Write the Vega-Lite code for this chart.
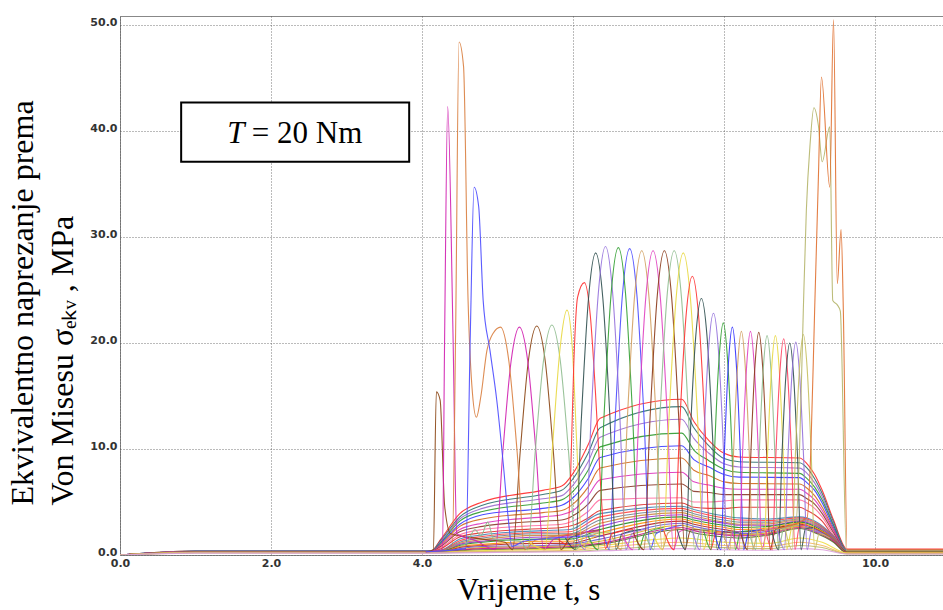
{
"$schema": "https://vega.github.io/schema/vega-lite/v6.json",
"width": 823, "height": 539,
"autosize": "none",
"padding": {"left": 120, "top": 16, "right": 0, "bottom": 55},
"background": "white",
"config": {"view": {"stroke": "#888", "strokeWidth": 1}},
"layer": [
{
"data": {"values": [
{"s":"F01","x":0,"y":0},{"s":"F01","x":1,"y":0.38},{"s":"F01","x":4.12,"y":0.38},{"s":"F01","x":4.25,"y":1.5},{"s":"F01","x":4.5,"y":3.9},{"s":"F01","x":4.8,"y":5.0},{"s":"F01","x":5.6,"y":6.1},{"s":"F01","x":5.85,"y":6.5},{"s":"F01","x":6.0,"y":7.7},{"s":"F01","x":6.2,"y":10.4},{"s":"F01","x":6.36,"y":12.9},{"s":"F01","x":7.44,"y":14.7},{"s":"F01","x":7.6,"y":12.6},{"s":"F01","x":7.8,"y":10.8},{"s":"F01","x":8.0,"y":9.6},{"s":"F01","x":8.2,"y":9.25},{"s":"F01","x":9.0,"y":9.15},{"s":"F01","x":9.1,"y":8.6},{"s":"F01","x":9.2,"y":7.6},{"s":"F01","x":9.3,"y":6.1},{"s":"F01","x":9.45,"y":3.3},{"s":"F01","x":9.63,"y":0.55},{"s":"F01","x":10.9,"y":0.55},
{"s":"F02","x":0,"y":0},{"s":"F02","x":1,"y":0.37},{"s":"F02","x":4.12,"y":0.37},{"s":"F02","x":4.25,"y":1.4},{"s":"F02","x":4.5,"y":3.6},{"s":"F02","x":4.8,"y":4.7},{"s":"F02","x":5.6,"y":5.7},{"s":"F02","x":5.85,"y":6.1},{"s":"F02","x":6.0,"y":7.2},{"s":"F02","x":6.2,"y":9.6},{"s":"F02","x":6.36,"y":12.0},{"s":"F02","x":7.44,"y":14.0},{"s":"F02","x":7.6,"y":12.0},{"s":"F02","x":7.8,"y":10.3},{"s":"F02","x":8.0,"y":9.1},{"s":"F02","x":8.2,"y":8.8},{"s":"F02","x":9.0,"y":8.7},{"s":"F02","x":9.1,"y":8.2},{"s":"F02","x":9.2,"y":7.2},{"s":"F02","x":9.3,"y":5.8},{"s":"F02","x":9.45,"y":3.1},{"s":"F02","x":9.63,"y":0.45},{"s":"F02","x":10.9,"y":0.45},
{"s":"F03","x":0,"y":0},{"s":"F03","x":1,"y":0.36},{"s":"F03","x":4.12,"y":0.36},{"s":"F03","x":4.25,"y":1.3},{"s":"F03","x":4.5,"y":3.4},{"s":"F03","x":4.8,"y":4.4},{"s":"F03","x":5.6,"y":5.3},{"s":"F03","x":5.85,"y":5.6},{"s":"F03","x":6.0,"y":6.6},{"s":"F03","x":6.2,"y":8.8},{"s":"F03","x":6.36,"y":11.1},{"s":"F03","x":7.44,"y":12.8},{"s":"F03","x":7.6,"y":11.0},{"s":"F03","x":7.8,"y":9.6},{"s":"F03","x":8.0,"y":8.6},{"s":"F03","x":8.2,"y":8.3},{"s":"F03","x":9.0,"y":8.2},{"s":"F03","x":9.1,"y":7.7},{"s":"F03","x":9.2,"y":6.8},{"s":"F03","x":9.3,"y":5.5},{"s":"F03","x":9.45,"y":2.9},{"s":"F03","x":9.63,"y":0.4},{"s":"F03","x":10.9,"y":0.4},
{"s":"F04","x":0,"y":0},{"s":"F04","x":1,"y":0.35},{"s":"F04","x":4.12,"y":0.35},{"s":"F04","x":4.25,"y":1.2},{"s":"F04","x":4.5,"y":3.2},{"s":"F04","x":4.8,"y":4.1},{"s":"F04","x":5.6,"y":4.9},{"s":"F04","x":5.85,"y":5.2},{"s":"F04","x":6.0,"y":6.0},{"s":"F04","x":6.2,"y":8.0},{"s":"F04","x":6.36,"y":10.2},{"s":"F04","x":7.44,"y":11.5},{"s":"F04","x":7.6,"y":9.9},{"s":"F04","x":7.8,"y":8.9},{"s":"F04","x":8.0,"y":8.1},{"s":"F04","x":8.2,"y":7.8},{"s":"F04","x":9.0,"y":7.7},{"s":"F04","x":9.1,"y":7.2},{"s":"F04","x":9.2,"y":6.4},{"s":"F04","x":9.3,"y":5.2},{"s":"F04","x":9.45,"y":2.8},{"s":"F04","x":9.63,"y":0.35},{"s":"F04","x":10.9,"y":0.35},
{"s":"F05","x":0,"y":0},{"s":"F05","x":1,"y":0.34},{"s":"F05","x":4.12,"y":0.34},{"s":"F05","x":4.25,"y":1.1},{"s":"F05","x":4.5,"y":2.9},{"s":"F05","x":4.8,"y":3.8},{"s":"F05","x":5.6,"y":4.4},{"s":"F05","x":5.85,"y":4.7},{"s":"F05","x":6.0,"y":5.4},{"s":"F05","x":6.2,"y":7.2},{"s":"F05","x":6.36,"y":9.2},{"s":"F05","x":7.44,"y":10.3},{"s":"F05","x":7.6,"y":9.0},{"s":"F05","x":7.8,"y":8.3},{"s":"F05","x":8.0,"y":7.6},{"s":"F05","x":8.2,"y":7.35},{"s":"F05","x":9.0,"y":7.3},{"s":"F05","x":9.1,"y":6.8},{"s":"F05","x":9.2,"y":6.1},{"s":"F05","x":9.3,"y":4.9},{"s":"F05","x":9.45,"y":2.6},{"s":"F05","x":9.63,"y":0.3},{"s":"F05","x":10.9,"y":0.3},
{"s":"F06","x":0,"y":0},{"s":"F06","x":1,"y":0.33},{"s":"F06","x":4.12,"y":0.33},{"s":"F06","x":4.25,"y":1.0},{"s":"F06","x":4.5,"y":2.7},{"s":"F06","x":4.8,"y":3.4},{"s":"F06","x":5.6,"y":4.0},{"s":"F06","x":5.85,"y":4.2},{"s":"F06","x":6.0,"y":4.8},{"s":"F06","x":6.2,"y":6.4},{"s":"F06","x":6.36,"y":8.2},{"s":"F06","x":7.44,"y":9.15},{"s":"F06","x":7.6,"y":8.0},{"s":"F06","x":7.8,"y":7.5},{"s":"F06","x":8.0,"y":6.9},{"s":"F06","x":8.2,"y":6.75},{"s":"F06","x":9.0,"y":6.7},{"s":"F06","x":9.1,"y":6.3},{"s":"F06","x":9.2,"y":5.6},{"s":"F06","x":9.3,"y":4.5},{"s":"F06","x":9.45,"y":2.4},{"s":"F06","x":9.63,"y":0.3},{"s":"F06","x":10.9,"y":0.3},
{"s":"F07","x":0,"y":0},{"s":"F07","x":1,"y":0.32},{"s":"F07","x":4.12,"y":0.32},{"s":"F07","x":4.25,"y":0.9},{"s":"F07","x":4.5,"y":2.4},{"s":"F07","x":4.8,"y":3.0},{"s":"F07","x":5.6,"y":3.6},{"s":"F07","x":5.85,"y":3.8},{"s":"F07","x":6.0,"y":4.2},{"s":"F07","x":6.2,"y":5.6},{"s":"F07","x":6.36,"y":7.1},{"s":"F07","x":7.44,"y":7.8},{"s":"F07","x":7.6,"y":6.9},{"s":"F07","x":7.8,"y":6.6},{"s":"F07","x":8.0,"y":6.3},{"s":"F07","x":8.2,"y":6.2},{"s":"F07","x":9.0,"y":6.2},{"s":"F07","x":9.1,"y":5.8},{"s":"F07","x":9.2,"y":5.2},{"s":"F07","x":9.3,"y":4.2},{"s":"F07","x":9.45,"y":2.3},{"s":"F07","x":9.63,"y":0.3},{"s":"F07","x":10.9,"y":0.3},
{"s":"F08","x":0,"y":0},{"s":"F08","x":1,"y":0.31},{"s":"F08","x":4.12,"y":0.31},{"s":"F08","x":4.25,"y":0.8},{"s":"F08","x":4.5,"y":2.2},{"s":"F08","x":4.8,"y":2.7},{"s":"F08","x":5.6,"y":3.2},{"s":"F08","x":5.85,"y":3.3},{"s":"F08","x":6.0,"y":3.7},{"s":"F08","x":6.2,"y":4.8},{"s":"F08","x":6.36,"y":6.1},{"s":"F08","x":7.44,"y":6.7},{"s":"F08","x":7.6,"y":6.0},{"s":"F08","x":7.8,"y":5.9},{"s":"F08","x":8.0,"y":5.7},{"s":"F08","x":8.2,"y":5.7},{"s":"F08","x":9.0,"y":5.7},{"s":"F08","x":9.1,"y":5.3},{"s":"F08","x":9.2,"y":4.8},{"s":"F08","x":9.3,"y":3.9},{"s":"F08","x":9.45,"y":2.1},{"s":"F08","x":9.63,"y":0.25},{"s":"F08","x":10.9,"y":0.25},
{"s":"F09","x":0,"y":0},{"s":"F09","x":1,"y":0.3},{"s":"F09","x":4.12,"y":0.3},{"s":"F09","x":4.25,"y":0.7},{"s":"F09","x":4.5,"y":1.9},{"s":"F09","x":4.8,"y":2.4},{"s":"F09","x":5.6,"y":2.8},{"s":"F09","x":5.85,"y":2.9},{"s":"F09","x":6.0,"y":3.2},{"s":"F09","x":6.2,"y":4.1},{"s":"F09","x":6.36,"y":5.2},{"s":"F09","x":7.44,"y":5.4},{"s":"F09","x":7.6,"y":5.0},{"s":"F09","x":7.8,"y":5.0},{"s":"F09","x":8.0,"y":5.1},{"s":"F09","x":8.2,"y":5.2},{"s":"F09","x":9.0,"y":5.2},{"s":"F09","x":9.1,"y":4.9},{"s":"F09","x":9.2,"y":4.4},{"s":"F09","x":9.3,"y":3.6},{"s":"F09","x":9.45,"y":1.9},{"s":"F09","x":9.63,"y":0.25},{"s":"F09","x":10.9,"y":0.25},
{"s":"F10","x":0,"y":0},{"s":"F10","x":1,"y":0.3},{"s":"F10","x":4.12,"y":0.3},{"s":"F10","x":4.25,"y":0.6},{"s":"F10","x":4.5,"y":1.7},{"s":"F10","x":4.8,"y":2.1},{"s":"F10","x":5.6,"y":2.5},{"s":"F10","x":5.85,"y":2.6},{"s":"F10","x":6.0,"y":2.8},{"s":"F10","x":6.2,"y":3.5},{"s":"F10","x":6.36,"y":4.2},{"s":"F10","x":7.44,"y":4.9},{"s":"F10","x":7.6,"y":4.5},{"s":"F10","x":7.8,"y":4.4},{"s":"F10","x":8.0,"y":4.4},{"s":"F10","x":8.2,"y":4.5},{"s":"F10","x":9.0,"y":4.5},{"s":"F10","x":9.1,"y":4.2},{"s":"F10","x":9.2,"y":3.8},{"s":"F10","x":9.3,"y":3.2},{"s":"F10","x":9.45,"y":1.7},{"s":"F10","x":9.63,"y":0.2},{"s":"F10","x":10.9,"y":0.2},
{"s":"C01","x":0,"y":0},{"s":"C01","x":1,"y":0.3},{"s":"C01","x":4.12,"y":0.3},{"s":"C01","x":4.3,"y":0.6},{"s":"C01","x":4.5,"y":1.5},{"s":"C01","x":4.8,"y":1.9},{"s":"C01","x":5.6,"y":2.3},{"s":"C01","x":5.96,"y":2.4},{"s":"C01","x":6.36,"y":3.9},{"s":"C01","x":7.44,"y":4.6},{"s":"C01","x":7.6,"y":4.3},{"s":"C01","x":8.0,"y":3.7},{"s":"C01","x":8.2,"y":3.5},{"s":"C01","x":8.6,"y":3.4},{"s":"C01","x":9.0,"y":3.6},{"s":"C01","x":9.2,"y":3.2},{"s":"C01","x":9.45,"y":1.8},{"s":"C01","x":9.63,"y":0.4},{"s":"C01","x":10.9,"y":0.4},
{"s":"C02","x":0,"y":0},{"s":"C02","x":1,"y":0.3},{"s":"C02","x":4.12,"y":0.3},{"s":"C02","x":4.3,"y":0.55},{"s":"C02","x":4.5,"y":1.35},{"s":"C02","x":4.8,"y":1.75},{"s":"C02","x":5.6,"y":2.15},{"s":"C02","x":5.96,"y":2.2},{"s":"C02","x":6.36,"y":3.6},{"s":"C02","x":7.44,"y":4.4},{"s":"C02","x":7.6,"y":4.1},{"s":"C02","x":8.0,"y":3.5},{"s":"C02","x":8.2,"y":3.3},{"s":"C02","x":8.6,"y":3.25},{"s":"C02","x":9.0,"y":3.5},{"s":"C02","x":9.2,"y":3.1},{"s":"C02","x":9.45,"y":1.75},{"s":"C02","x":9.63,"y":0.35},{"s":"C02","x":10.9,"y":0.35},
{"s":"C03","x":0,"y":0},{"s":"C03","x":1,"y":0.3},{"s":"C03","x":4.12,"y":0.3},{"s":"C03","x":4.3,"y":0.5},{"s":"C03","x":4.5,"y":1.2},{"s":"C03","x":4.8,"y":1.6},{"s":"C03","x":5.6,"y":2.0},{"s":"C03","x":5.96,"y":2.0},{"s":"C03","x":6.36,"y":3.3},{"s":"C03","x":7.44,"y":4.2},{"s":"C03","x":7.6,"y":3.9},{"s":"C03","x":8.0,"y":3.3},{"s":"C03","x":8.2,"y":3.1},{"s":"C03","x":8.6,"y":3.1},{"s":"C03","x":9.0,"y":3.4},{"s":"C03","x":9.2,"y":3.0},{"s":"C03","x":9.45,"y":1.7},{"s":"C03","x":9.63,"y":0.35},{"s":"C03","x":10.9,"y":0.35},
{"s":"C04","x":0,"y":0},{"s":"C04","x":1,"y":0.29},{"s":"C04","x":4.12,"y":0.29},{"s":"C04","x":4.3,"y":0.45},{"s":"C04","x":4.5,"y":1.1},{"s":"C04","x":4.8,"y":1.45},{"s":"C04","x":5.6,"y":1.85},{"s":"C04","x":5.96,"y":1.85},{"s":"C04","x":6.36,"y":3.0},{"s":"C04","x":7.44,"y":4.0},{"s":"C04","x":7.6,"y":3.7},{"s":"C04","x":8.0,"y":3.1},{"s":"C04","x":8.2,"y":2.9},{"s":"C04","x":8.6,"y":2.95},{"s":"C04","x":9.0,"y":3.3},{"s":"C04","x":9.2,"y":2.9},{"s":"C04","x":9.45,"y":1.6},{"s":"C04","x":9.63,"y":0.3},{"s":"C04","x":10.9,"y":0.3},
{"s":"C05","x":0,"y":0},{"s":"C05","x":1,"y":0.29},{"s":"C05","x":4.12,"y":0.29},{"s":"C05","x":4.3,"y":0.4},{"s":"C05","x":4.5,"y":1.0},{"s":"C05","x":4.8,"y":1.3},{"s":"C05","x":5.6,"y":1.7},{"s":"C05","x":5.96,"y":1.7},{"s":"C05","x":6.36,"y":2.7},{"s":"C05","x":7.44,"y":3.8},{"s":"C05","x":7.6,"y":3.5},{"s":"C05","x":8.0,"y":3.0},{"s":"C05","x":8.2,"y":2.8},{"s":"C05","x":8.6,"y":2.8},{"s":"C05","x":9.0,"y":3.2},{"s":"C05","x":9.2,"y":2.8},{"s":"C05","x":9.45,"y":1.6},{"s":"C05","x":9.63,"y":0.3},{"s":"C05","x":10.9,"y":0.3},
{"s":"C06","x":0,"y":0},{"s":"C06","x":1,"y":0.28},{"s":"C06","x":4.12,"y":0.28},{"s":"C06","x":4.3,"y":0.4},{"s":"C06","x":4.5,"y":0.9},{"s":"C06","x":4.8,"y":1.2},{"s":"C06","x":5.6,"y":1.5},{"s":"C06","x":5.96,"y":1.5},{"s":"C06","x":6.36,"y":2.4},{"s":"C06","x":7.44,"y":3.6},{"s":"C06","x":7.6,"y":3.3},{"s":"C06","x":8.0,"y":2.8},{"s":"C06","x":8.2,"y":2.6},{"s":"C06","x":8.6,"y":2.7},{"s":"C06","x":9.0,"y":3.1},{"s":"C06","x":9.2,"y":2.7},{"s":"C06","x":9.45,"y":1.5},{"s":"C06","x":9.63,"y":0.3},{"s":"C06","x":10.9,"y":0.3},
{"s":"C07","x":0,"y":0},{"s":"C07","x":1,"y":0.28},{"s":"C07","x":4.12,"y":0.28},{"s":"C07","x":4.3,"y":0.35},{"s":"C07","x":4.5,"y":0.8},{"s":"C07","x":4.8,"y":1.0},{"s":"C07","x":5.6,"y":1.3},{"s":"C07","x":5.96,"y":1.3},{"s":"C07","x":6.36,"y":2.1},{"s":"C07","x":7.44,"y":3.4},{"s":"C07","x":7.6,"y":3.1},{"s":"C07","x":8.0,"y":2.6},{"s":"C07","x":8.2,"y":2.4},{"s":"C07","x":8.6,"y":2.55},{"s":"C07","x":9.0,"y":3.0},{"s":"C07","x":9.2,"y":2.6},{"s":"C07","x":9.45,"y":1.5},{"s":"C07","x":9.63,"y":0.25},{"s":"C07","x":10.9,"y":0.25},
{"s":"C08","x":0,"y":0},{"s":"C08","x":1,"y":0.27},{"s":"C08","x":4.12,"y":0.27},{"s":"C08","x":4.3,"y":0.35},{"s":"C08","x":4.5,"y":0.7},{"s":"C08","x":4.8,"y":0.9},{"s":"C08","x":5.6,"y":1.1},{"s":"C08","x":5.96,"y":1.1},{"s":"C08","x":6.36,"y":1.8},{"s":"C08","x":7.44,"y":3.2},{"s":"C08","x":7.6,"y":2.9},{"s":"C08","x":8.0,"y":2.4},{"s":"C08","x":8.2,"y":2.2},{"s":"C08","x":8.6,"y":2.4},{"s":"C08","x":9.0,"y":2.9},{"s":"C08","x":9.2,"y":2.5},{"s":"C08","x":9.45,"y":1.4},{"s":"C08","x":9.63,"y":0.25},{"s":"C08","x":10.9,"y":0.25},
{"s":"C09","x":0,"y":0},{"s":"C09","x":1,"y":0.27},{"s":"C09","x":4.12,"y":0.27},{"s":"C09","x":4.3,"y":0.3},{"s":"C09","x":4.5,"y":0.6},{"s":"C09","x":4.8,"y":0.8},{"s":"C09","x":5.6,"y":0.9},{"s":"C09","x":5.96,"y":1.0},{"s":"C09","x":6.36,"y":1.5},{"s":"C09","x":7.44,"y":3.0},{"s":"C09","x":7.6,"y":2.7},{"s":"C09","x":8.0,"y":2.2},{"s":"C09","x":8.2,"y":2.0},{"s":"C09","x":8.6,"y":2.25},{"s":"C09","x":9.0,"y":2.8},{"s":"C09","x":9.2,"y":2.4},{"s":"C09","x":9.45,"y":1.4},{"s":"C09","x":9.63,"y":0.2},{"s":"C09","x":10.9,"y":0.2},
{"s":"C10","x":0,"y":0},{"s":"C10","x":1,"y":0.26},{"s":"C10","x":4.12,"y":0.26},{"s":"C10","x":4.3,"y":0.3},{"s":"C10","x":4.5,"y":0.5},{"s":"C10","x":4.8,"y":0.7},{"s":"C10","x":5.6,"y":0.8},{"s":"C10","x":5.96,"y":0.9},{"s":"C10","x":6.36,"y":1.3},{"s":"C10","x":7.44,"y":2.8},{"s":"C10","x":7.6,"y":2.5},{"s":"C10","x":8.0,"y":2.0},{"s":"C10","x":8.2,"y":1.9},{"s":"C10","x":8.6,"y":2.1},{"s":"C10","x":9.0,"y":2.7},{"s":"C10","x":9.2,"y":2.3},{"s":"C10","x":9.45,"y":1.3},{"s":"C10","x":9.63,"y":0.2},{"s":"C10","x":10.9,"y":0.2},
{"s":"C11","x":0,"y":0},{"s":"C11","x":1,"y":0.26},{"s":"C11","x":4.12,"y":0.26},{"s":"C11","x":4.3,"y":0.3},{"s":"C11","x":4.5,"y":0.45},{"s":"C11","x":4.8,"y":0.6},{"s":"C11","x":5.6,"y":0.7},{"s":"C11","x":5.96,"y":0.8},{"s":"C11","x":6.36,"y":1.1},{"s":"C11","x":7.44,"y":2.6},{"s":"C11","x":7.6,"y":2.3},{"s":"C11","x":8.0,"y":1.9},{"s":"C11","x":8.2,"y":1.8},{"s":"C11","x":8.6,"y":2.0},{"s":"C11","x":9.0,"y":2.6},{"s":"C11","x":9.2,"y":2.2},{"s":"C11","x":9.45,"y":1.3},{"s":"C11","x":9.63,"y":0.2},{"s":"C11","x":10.9,"y":0.2},
{"s":"C12","x":0,"y":0},{"s":"C12","x":1,"y":0.25},{"s":"C12","x":4.12,"y":0.25},{"s":"C12","x":4.3,"y":0.3},{"s":"C12","x":4.5,"y":0.4},{"s":"C12","x":4.8,"y":0.5},{"s":"C12","x":5.6,"y":0.6},{"s":"C12","x":5.96,"y":0.7},{"s":"C12","x":6.36,"y":1.0},{"s":"C12","x":7.44,"y":2.4},{"s":"C12","x":7.6,"y":2.1},{"s":"C12","x":8.0,"y":1.7},{"s":"C12","x":8.2,"y":1.6},{"s":"C12","x":8.6,"y":1.9},{"s":"C12","x":9.0,"y":2.5},{"s":"C12","x":9.2,"y":2.1},{"s":"C12","x":9.45,"y":1.2},{"s":"C12","x":9.63,"y":0.15},{"s":"C12","x":10.9,"y":0.15},
{"s":"L01","x":0,"y":0},{"s":"L01","x":1,"y":0.25},{"s":"L01","x":4.12,"y":0.25},{"s":"L01","x":4.5,"y":0.35},{"s":"L01","x":5.0,"y":0.45},{"s":"L01","x":6.0,"y":0.6},{"s":"L01","x":6.4,"y":0.9},{"s":"L01","x":7.44,"y":1.6},{"s":"L01","x":8.0,"y":1.2},{"s":"L01","x":8.6,"y":1.1},{"s":"L01","x":9.0,"y":1.6},{"s":"L01","x":9.3,"y":1.2},{"s":"L01","x":9.63,"y":0.2},{"s":"L01","x":10.9,"y":0.2},
{"s":"L02","x":0,"y":0},{"s":"L02","x":1,"y":0.22},{"s":"L02","x":4.12,"y":0.22},{"s":"L02","x":4.5,"y":0.3},{"s":"L02","x":5.0,"y":0.35},{"s":"L02","x":6.0,"y":0.45},{"s":"L02","x":6.4,"y":0.7},{"s":"L02","x":7.44,"y":1.2},{"s":"L02","x":8.0,"y":0.9},{"s":"L02","x":8.6,"y":0.8},{"s":"L02","x":9.0,"y":1.2},{"s":"L02","x":9.3,"y":0.9},{"s":"L02","x":9.63,"y":0.15},{"s":"L02","x":10.9,"y":0.15},
{"s":"L03","x":0,"y":0},{"s":"L03","x":1,"y":0.2},{"s":"L03","x":4.12,"y":0.2},{"s":"L03","x":4.5,"y":0.25},{"s":"L03","x":5.0,"y":0.3},{"s":"L03","x":6.0,"y":0.35},{"s":"L03","x":6.4,"y":0.5},{"s":"L03","x":7.44,"y":0.9},{"s":"L03","x":8.0,"y":0.7},{"s":"L03","x":8.6,"y":0.6},{"s":"L03","x":9.0,"y":0.9},{"s":"L03","x":9.3,"y":0.7},{"s":"L03","x":9.63,"y":0.1},{"s":"L03","x":10.9,"y":0.1},
{"s":"L04","x":0,"y":0},{"s":"L04","x":1,"y":0.18},{"s":"L04","x":4.12,"y":0.18},{"s":"L04","x":4.5,"y":0.2},{"s":"L04","x":5.0,"y":0.25},{"s":"L04","x":6.0,"y":0.3},{"s":"L04","x":6.4,"y":0.4},{"s":"L04","x":7.44,"y":0.6},{"s":"L04","x":8.0,"y":0.5},{"s":"L04","x":8.6,"y":0.45},{"s":"L04","x":9.0,"y":0.6},{"s":"L04","x":9.3,"y":0.5},{"s":"L04","x":9.63,"y":0.1},{"s":"L04","x":10.9,"y":0.1},
{"s":"S1","x":4.05,"y":0.3},{"s":"S1","x":4.15,"y":0.5},{"s":"S1","x":4.19,"y":15.4},{"s":"S1","x":4.24,"y":14.6},{"s":"S1","x":4.3,"y":4.6},{"s":"S1","x":4.38,"y":2.0},{"s":"S1","x":4.8,"y":1.5},{"s":"S1","x":5.1,"y":1.2},{"s":"S1","x":5.2,"y":0.5},{"s":"S1","x":5.3,"y":9.7},{"s":"S1","x":5.41,"y":18.4},{"s":"S1","x":5.52,"y":21.6},{"s":"S1","x":5.63,"y":18.4},{"s":"S1","x":5.74,"y":9.7},{"s":"S1","x":5.84,"y":0.5},{"s":"S1","x":5.96,"y":1.6},{"s":"S1","x":6.36,"y":2.4},
{"s":"S2","x":4.05,"y":0.3},{"s":"S2","x":4.27,"y":0.5},{"s":"S2","x":4.3,"y":21},{"s":"S2","x":4.34,"y":42.3},{"s":"S2","x":4.41,"y":21},{"s":"S2","x":4.46,"y":2.0},{"s":"S2","x":4.7,"y":1.4},{"s":"S2","x":4.97,"y":0.5},{"s":"S2","x":5.07,"y":9.7},{"s":"S2","x":5.18,"y":18.3},{"s":"S2","x":5.29,"y":21.5},{"s":"S2","x":5.4,"y":18.3},{"s":"S2","x":5.51,"y":9.7},{"s":"S2","x":5.61,"y":0.5},{"s":"S2","x":5.75,"y":1.5},{"s":"S2","x":6.36,"y":2.3},
{"s":"S3","x":4.05,"y":0.3},{"s":"S3","x":4.4,"y":0.5},{"s":"S3","x":4.445,"y":21},{"s":"S3","x":4.49,"y":48.4},{"s":"S3","x":4.55,"y":46.1},{"s":"S3","x":4.61,"y":24},{"s":"S3","x":4.66,"y":16},{"s":"S3","x":4.72,"y":13.0},{"s":"S3","x":4.78,"y":15},{"s":"S3","x":4.86,"y":19.3},{"s":"S3","x":4.94,"y":20.9},{"s":"S3","x":5.04,"y":21.5},{"s":"S3","x":5.15,"y":18.3},{"s":"S3","x":5.26,"y":9.7},{"s":"S3","x":5.36,"y":0.5},{"s":"S3","x":5.5,"y":1.4},{"s":"S3","x":6.36,"y":2.2},
{"s":"S4","x":4.05,"y":0.3},{"s":"S4","x":4.58,"y":0.6},{"s":"S4","x":4.64,"y":21},{"s":"S4","x":4.69,"y":34.7},{"s":"S4","x":4.75,"y":32.9},{"s":"S4","x":4.81,"y":24},{"s":"S4","x":4.9,"y":19.3},{"s":"S4","x":4.99,"y":14.6},{"s":"S4","x":5.08,"y":8.3},{"s":"S4","x":5.14,"y":3.6},{"s":"S4","x":5.19,"y":0.8},{"s":"S4","x":5.35,"y":1.3},{"s":"S4","x":5.96,"y":1.7},{"s":"S4","x":6.4,"y":1.8},{"s":"S4","x":6.48,"y":0.5},{"s":"S4","x":6.56,"y":13},{"s":"S4","x":6.655,"y":24.6},{"s":"S4","x":6.75,"y":28.9},{"s":"S4","x":6.845,"y":24.6},{"s":"S4","x":6.94,"y":13},{"s":"S4","x":7.02,"y":0.5},{"s":"S4","x":7.1,"y":2.0},{"s":"S4","x":7.44,"y":2.8},
{"s":"A04","x":4.5,"y":0.8},{"s":"A04","x":4.6,"y":1.2},{"s":"A04","x":4.7,"y":2.4},{"s":"A04","x":4.78,"y":1.8},{"s":"A04","x":4.87,"y":3.1},{"s":"A04","x":4.95,"y":1.5},{"s":"A04","x":5.3,"y":1.3},{"s":"A04","x":5.4,"y":0.5},{"s":"A04","x":5.5,"y":9.8},{"s":"A04","x":5.61,"y":18.4},{"s":"A04","x":5.72,"y":21.7},{"s":"A04","x":5.83,"y":18.4},{"s":"A04","x":5.94,"y":9.8},{"s":"A04","x":6.04,"y":0.5},{"s":"A04","x":6.15,"y":1.8},{"s":"A04","x":6.5,"y":2.2},
{"s":"A05","x":5.4,"y":1.3},{"s":"A05","x":5.63,"y":0.5},{"s":"A05","x":5.73,"y":10.4},{"s":"A05","x":5.83,"y":19.6},{"s":"A05","x":5.92,"y":23.1},{"s":"A05","x":5.99,"y":19.6},{"s":"A05","x":6.05,"y":10.4},{"s":"A05","x":6.12,"y":0.8},{"s":"A05","x":6.25,"y":1.6},{"s":"A05","x":6.5,"y":2.2},
{"s":"A06","x":5.8,"y":1.5},{"s":"A06","x":5.92,"y":1.0},{"s":"A06","x":5.97,"y":8},{"s":"A06","x":6.01,"y":18},{"s":"A06","x":6.06,"y":24.3},{"s":"A06","x":6.15,"y":25.7},{"s":"A06","x":6.23,"y":22.5},{"s":"A06","x":6.3,"y":15},{"s":"A06","x":6.37,"y":6},{"s":"A06","x":6.43,"y":0.6},{"s":"A06","x":6.52,"y":2.0},{"s":"A06","x":6.8,"y":2.4},
{"s":"A07","x":5.9,"y":1.6},{"s":"A07","x":6.03,"y":0.5},{"s":"A07","x":6.11,"y":12.8},{"s":"A07","x":6.205,"y":24.2},{"s":"A07","x":6.3,"y":28.5},{"s":"A07","x":6.395,"y":24.2},{"s":"A07","x":6.49,"y":12.8},{"s":"A07","x":6.57,"y":0.5},{"s":"A07","x":6.65,"y":2.0},{"s":"A07","x":6.9,"y":2.4},
{"s":"A08","x":6.05,"y":1.7},{"s":"A08","x":6.16,"y":0.5},{"s":"A08","x":6.24,"y":13.1},{"s":"A08","x":6.335,"y":24.7},{"s":"A08","x":6.43,"y":29.1},{"s":"A08","x":6.525,"y":24.7},{"s":"A08","x":6.62,"y":13.1},{"s":"A08","x":6.7,"y":0.5},{"s":"A08","x":6.78,"y":2.0},{"s":"A08","x":7.0,"y":2.5},
{"s":"A09","x":6.2,"y":1.8},{"s":"A09","x":6.33,"y":0.5},{"s":"A09","x":6.41,"y":13},{"s":"A09","x":6.505,"y":24.7},{"s":"A09","x":6.6,"y":29},{"s":"A09","x":6.695,"y":24.7},{"s":"A09","x":6.79,"y":13},{"s":"A09","x":6.87,"y":0.5},{"s":"A09","x":6.95,"y":2.0},{"s":"A09","x":7.2,"y":2.6},
{"s":"A11","x":6.5,"y":2.0},{"s":"A11","x":6.64,"y":0.5},{"s":"A11","x":6.72,"y":12.9},{"s":"A11","x":6.815,"y":24.4},{"s":"A11","x":6.91,"y":28.7},{"s":"A11","x":7.005,"y":24.4},{"s":"A11","x":7.1,"y":12.9},{"s":"A11","x":7.18,"y":0.5},{"s":"A11","x":7.26,"y":2.1},{"s":"A11","x":7.44,"y":2.6},
{"s":"A12","x":6.65,"y":2.0},{"s":"A12","x":6.79,"y":0.5},{"s":"A12","x":6.87,"y":12.9},{"s":"A12","x":6.965,"y":24.4},{"s":"A12","x":7.06,"y":28.7},{"s":"A12","x":7.155,"y":24.4},{"s":"A12","x":7.25,"y":12.9},{"s":"A12","x":7.33,"y":0.5},{"s":"A12","x":7.41,"y":2.2},{"s":"A12","x":7.6,"y":2.6},
{"s":"A13","x":6.8,"y":2.1},{"s":"A13","x":6.94,"y":0.5},{"s":"A13","x":7.02,"y":12.9},{"s":"A13","x":7.115,"y":24.4},{"s":"A13","x":7.21,"y":28.7},{"s":"A13","x":7.305,"y":24.4},{"s":"A13","x":7.4,"y":12.9},{"s":"A13","x":7.48,"y":0.5},{"s":"A13","x":7.56,"y":2.4},{"s":"A13","x":7.8,"y":2.3},
{"s":"A14","x":6.95,"y":2.1},{"s":"A14","x":7.07,"y":0.5},{"s":"A14","x":7.15,"y":12.9},{"s":"A14","x":7.245,"y":24.4},{"s":"A14","x":7.34,"y":28.7},{"s":"A14","x":7.435,"y":24.4},{"s":"A14","x":7.53,"y":12.9},{"s":"A14","x":7.61,"y":0.5},{"s":"A14","x":7.69,"y":2.4},{"s":"A14","x":7.9,"y":2.2},
{"s":"A15","x":7.05,"y":2.2},{"s":"A15","x":7.19,"y":0.5},{"s":"A15","x":7.27,"y":12.8},{"s":"A15","x":7.365,"y":24.2},{"s":"A15","x":7.46,"y":28.5},{"s":"A15","x":7.555,"y":24.2},{"s":"A15","x":7.65,"y":12.8},{"s":"A15","x":7.73,"y":0.5},{"s":"A15","x":7.81,"y":2.3},{"s":"A15","x":8.0,"y":2.1},
{"s":"A16","x":7.2,"y":2.3},{"s":"A16","x":7.34,"y":0.5},{"s":"A16","x":7.41,"y":11.8},{"s":"A16","x":7.495,"y":22.4},{"s":"A16","x":7.58,"y":26.3},{"s":"A16","x":7.665,"y":22.4},{"s":"A16","x":7.75,"y":11.8},{"s":"A16","x":7.82,"y":0.5},{"s":"A16","x":7.9,"y":2.2},{"s":"A16","x":8.1,"y":2.1},
{"s":"A17","x":7.38,"y":2.4},{"s":"A17","x":7.49,"y":0.5},{"s":"A17","x":7.55,"y":10.9},{"s":"A17","x":7.625,"y":20.6},{"s":"A17","x":7.7,"y":24.2},{"s":"A17","x":7.775,"y":20.6},{"s":"A17","x":7.85,"y":10.9},{"s":"A17","x":7.91,"y":0.5},{"s":"A17","x":7.99,"y":2.2},{"s":"A17","x":8.2,"y":2.1},
{"s":"A18","x":7.58,"y":2.4},{"s":"A18","x":7.68,"y":0.5},{"s":"A18","x":7.73,"y":10.3},{"s":"A18","x":7.795,"y":19.4},{"s":"A18","x":7.86,"y":22.8},{"s":"A18","x":7.925,"y":19.4},{"s":"A18","x":7.99,"y":10.3},{"s":"A18","x":8.04,"y":0.5},{"s":"A18","x":8.12,"y":2.2},{"s":"A18","x":8.3,"y":2.2},
{"s":"A19","x":7.73,"y":2.3},{"s":"A19","x":7.83,"y":0.5},{"s":"A19","x":7.875,"y":9.9},{"s":"A19","x":7.935,"y":18.6},{"s":"A19","x":7.99,"y":21.9},{"s":"A19","x":8.045,"y":18.6},{"s":"A19","x":8.105,"y":9.9},{"s":"A19","x":8.15,"y":0.5},{"s":"A19","x":8.22,"y":2.2},{"s":"A19","x":8.4,"y":2.3},
{"s":"A20","x":7.87,"y":2.2},{"s":"A20","x":7.96,"y":0.5},{"s":"A20","x":8.005,"y":9.7},{"s":"A20","x":8.06,"y":18.3},{"s":"A20","x":8.11,"y":21.5},{"s":"A20","x":8.16,"y":18.3},{"s":"A20","x":8.215,"y":9.7},{"s":"A20","x":8.26,"y":0.5},{"s":"A20","x":8.33,"y":2.2},{"s":"A20","x":8.5,"y":2.4},
{"s":"A21","x":7.99,"y":2.1},{"s":"A21","x":8.08,"y":0.5},{"s":"A21","x":8.125,"y":9.5},{"s":"A21","x":8.18,"y":17.9},{"s":"A21","x":8.23,"y":21.1},{"s":"A21","x":8.28,"y":17.9},{"s":"A21","x":8.335,"y":9.5},{"s":"A21","x":8.38,"y":0.5},{"s":"A21","x":8.45,"y":2.2},{"s":"A21","x":8.6,"y":2.5},
{"s":"A22","x":8.11,"y":2.1},{"s":"A22","x":8.2,"y":0.5},{"s":"A22","x":8.245,"y":9.5},{"s":"A22","x":8.3,"y":17.9},{"s":"A22","x":8.35,"y":21.1},{"s":"A22","x":8.4,"y":17.9},{"s":"A22","x":8.455,"y":9.5},{"s":"A22","x":8.5,"y":0.5},{"s":"A22","x":8.57,"y":2.3},{"s":"A22","x":8.7,"y":2.6},
{"s":"A23","x":8.22,"y":2.1},{"s":"A23","x":8.31,"y":0.5},{"s":"A23","x":8.355,"y":9.5},{"s":"A23","x":8.41,"y":17.9},{"s":"A23","x":8.46,"y":21.0},{"s":"A23","x":8.51,"y":17.9},{"s":"A23","x":8.565,"y":9.5},{"s":"A23","x":8.61,"y":0.5},{"s":"A23","x":8.68,"y":2.4},{"s":"A23","x":8.8,"y":2.7},
{"s":"A24","x":8.33,"y":2.2},{"s":"A24","x":8.42,"y":0.5},{"s":"A24","x":8.465,"y":9.3},{"s":"A24","x":8.52,"y":17.6},{"s":"A24","x":8.57,"y":20.7},{"s":"A24","x":8.62,"y":17.6},{"s":"A24","x":8.675,"y":9.3},{"s":"A24","x":8.72,"y":0.5},{"s":"A24","x":8.79,"y":2.5},{"s":"A24","x":8.9,"y":2.8},
{"s":"A25","x":8.44,"y":2.2},{"s":"A25","x":8.53,"y":0.5},{"s":"A25","x":8.575,"y":9.3},{"s":"A25","x":8.63,"y":17.6},{"s":"A25","x":8.68,"y":20.7},{"s":"A25","x":8.73,"y":17.6},{"s":"A25","x":8.785,"y":9.3},{"s":"A25","x":8.83,"y":0.5},{"s":"A25","x":8.9,"y":2.6},{"s":"A25","x":9.0,"y":2.9},
{"s":"A26","x":8.55,"y":2.3},{"s":"A26","x":8.64,"y":0.5},{"s":"A26","x":8.685,"y":9.2},{"s":"A26","x":8.74,"y":17.3},{"s":"A26","x":8.79,"y":20.4},{"s":"A26","x":8.84,"y":17.3},{"s":"A26","x":8.895,"y":9.2},{"s":"A26","x":8.94,"y":0.5},{"s":"A26","x":9.0,"y":2.7},{"s":"A26","x":9.1,"y":2.8},
{"s":"A27","x":8.63,"y":2.3},{"s":"A27","x":8.72,"y":0.5},{"s":"A27","x":8.765,"y":9},{"s":"A27","x":8.82,"y":17},{"s":"A27","x":8.87,"y":20},{"s":"A27","x":8.92,"y":17},{"s":"A27","x":8.975,"y":9},{"s":"A27","x":9.02,"y":0.5},{"s":"A27","x":9.08,"y":2.5},{"s":"A27","x":9.2,"y":2.6},
{"s":"A28","x":8.71,"y":2.4},{"s":"A28","x":8.8,"y":0.5},{"s":"A28","x":8.845,"y":9},{"s":"A28","x":8.9,"y":17.1},{"s":"A28","x":8.95,"y":20.1},{"s":"A28","x":9.0,"y":17.1},{"s":"A28","x":9.055,"y":9},{"s":"A28","x":9.1,"y":0.5},{"s":"A28","x":9.16,"y":2.3},{"s":"A28","x":9.3,"y":2.0},
{"s":"A29","x":8.81,"y":2.5},{"s":"A29","x":8.9,"y":0.5},{"s":"A29","x":8.945,"y":9.4},{"s":"A29","x":9.0,"y":17.7},{"s":"A29","x":9.05,"y":20.8},{"s":"A29","x":9.1,"y":17.7},{"s":"A29","x":9.155,"y":9.4},{"s":"A29","x":9.2,"y":0.5},{"s":"A29","x":9.26,"y":2.0},{"s":"A29","x":9.4,"y":1.6},
{"s":"O1","x":8.6,"y":2.4},{"s":"O1","x":8.95,"y":2.8},{"s":"O1","x":9.0,"y":10},{"s":"O1","x":9.05,"y":23.1},{"s":"O1","x":9.09,"y":32.5},{"s":"O1","x":9.14,"y":38.8},{"s":"O1","x":9.19,"y":42.2},{"s":"O1","x":9.25,"y":40.5},{"s":"O1","x":9.3,"y":37.1},{"s":"O1","x":9.4,"y":40.4},{"s":"O1","x":9.44,"y":24},{"s":"O1","x":9.5,"y":23.6},{"s":"O1","x":9.54,"y":23},{"s":"O1","x":9.62,"y":0.4},{"s":"O1","x":10.9,"y":0.4},
{"s":"O2","x":8.7,"y":2.5},{"s":"O2","x":9.1,"y":3.5},{"s":"O2","x":9.15,"y":10},{"s":"O2","x":9.2,"y":23.1},{"s":"O2","x":9.25,"y":35.7},{"s":"O2","x":9.29,"y":45.1},{"s":"O2","x":9.4,"y":34.7},{"s":"O2","x":9.45,"y":50.5},{"s":"O2","x":9.5,"y":25.6},{"s":"O2","x":9.55,"y":30.7},{"s":"O2","x":9.58,"y":23.1},{"s":"O2","x":9.63,"y":0.5},{"s":"O2","x":10.9,"y":0.5}
]},
"mark": {"type": "line", "interpolate": "monotone", "strokeWidth": 1.1, "opacity": 0.9, "clip": true},
"encoding": {
"x": {"field": "x", "type": "quantitative", "scale": {"domain": [0, 10.9], "nice": false, "zero": false},
"axis": {"values": [0, 2, 4, 6, 8, 10], "format": ".1f", "grid": true, "gridDash": [1, 2], "gridColor": "#555", "gridOpacity": 0.8, "domain": false, "ticks": false, "labelFlush": false, "labelFont": "DejaVu Sans", "labelFontSize": 11, "labelFontWeight": "bold", "labelColor": "#333", "labelBaseline": "top", "labelPadding": 2,
"title": "Vrijeme t, s", "titleFont": "Liberation Serif", "titleFontSize": 31, "titleFontWeight": "normal", "titleColor": "#000", "titleBaseline": "alphabetic", "titleY": 44, "titleX": 408}},
"y": {"field": "y", "type": "quantitative", "scale": {"domain": [0, 50.85], "nice": false, "zero": false},
"axis": {"values": [0, 10, 20, 30, 40, 50], "format": ".1f", "grid": true, "gridDash": [1, 2], "gridColor": "#555", "gridOpacity": 0.8, "domain": false, "ticks": false, "labelFlush": false, "labelFont": "DejaVu Sans", "labelFontSize": 11, "labelFontWeight": "bold", "labelColor": "#333", "labelPadding": 3, "labelOffset": -3,
"title": ["Ekvivalentno naprezanje prema", "Von Misesu σₑₖᵥ , MPa"], "titleFont": "Liberation Serif", "titleFontSize": 32, "titleFontWeight": "normal", "titleColor": "#000", "titleAngle": 270, "titleAlign": "left", "titleBaseline": "alphabetic", "titleX": -88, "titleY": 489, "titleLineHeight": 40}},
"color": {"field": "s", "type": "nominal", "legend": null,
"scale": {
"domain": ["F01","F02","F03","F04","F05","F06","F07","F08","F09","F10","C01","C02","C03","C04","C05","C06","C07","C08","C09","C10","C11","C12","L01","L02","L03","L04","S1","S2","S3","S4","A04","A05","A06","A07","A08","A09","A11","A12","A13","A14","A15","A16","A17","A18","A19","A20","A21","A22","A23","A24","A25","A26","A27","A28","A29","O1","O2"],
"range": ["#ff2a2a","#2f6f6f","#9a6acd","#2e9a2e","#3a3aff","#d2691e","#dd33bb","#8b3a2a","#ff6fa0","#e03030","#4682b4","#ff4040","#708090","#cd853f","#9932cc","#228b22","#ff8c00","#b22222","#6a5acd","#daa520","#c71585","#556b2f","#eedd44","#f4b860","#bdb76b","#dda0dd","#8b4513","#d020b0","#d98040","#4a4aff","#8fbc8f","#e8d840","#ff3030","#2f4f4f","#9370db","#32a032","#d2a060","#e040c0","#8b3a1a","#8fbc8f","#e8d840","#ff3030","#2f4f4f","#9370db","#32a032","#3030ff","#d2a060","#e040c0","#8b3a1a","#8fbc8f","#e8d840","#ff4060","#2f4f4f","#9370db","#c8c060","#b5b56a","#e07030"]}}
}
},
{
"data": {"values": [{}]},
"mark": {"type": "rect", "fill": "white", "stroke": "black", "strokeWidth": 2},
"encoding": {"x": {"datum": 0.81, "type": "quantitative"}, "x2": {"datum": 3.83}, "y": {"datum": 42.7, "type": "quantitative"}, "y2": {"datum": 37.1}}
},
{
"data": {"values": [{}]},
"mark": {"type": "text", "text": "T", "font": "Liberation Serif", "fontSize": 31, "fontStyle": "italic", "align": "left", "baseline": "alphabetic", "color": "black"},
"encoding": {"x": {"datum": 1.42, "type": "quantitative"}, "y": {"datum": 38.85, "type": "quantitative"}}
},
{
"data": {"values": [{}]},
"mark": {"type": "text", "text": "= 20 Nm", "font": "Liberation Serif", "fontSize": 31, "align": "left", "baseline": "alphabetic", "color": "black"},
"encoding": {"x": {"datum": 1.745, "type": "quantitative"}, "y": {"datum": 38.85, "type": "quantitative"}}
}
]
}
